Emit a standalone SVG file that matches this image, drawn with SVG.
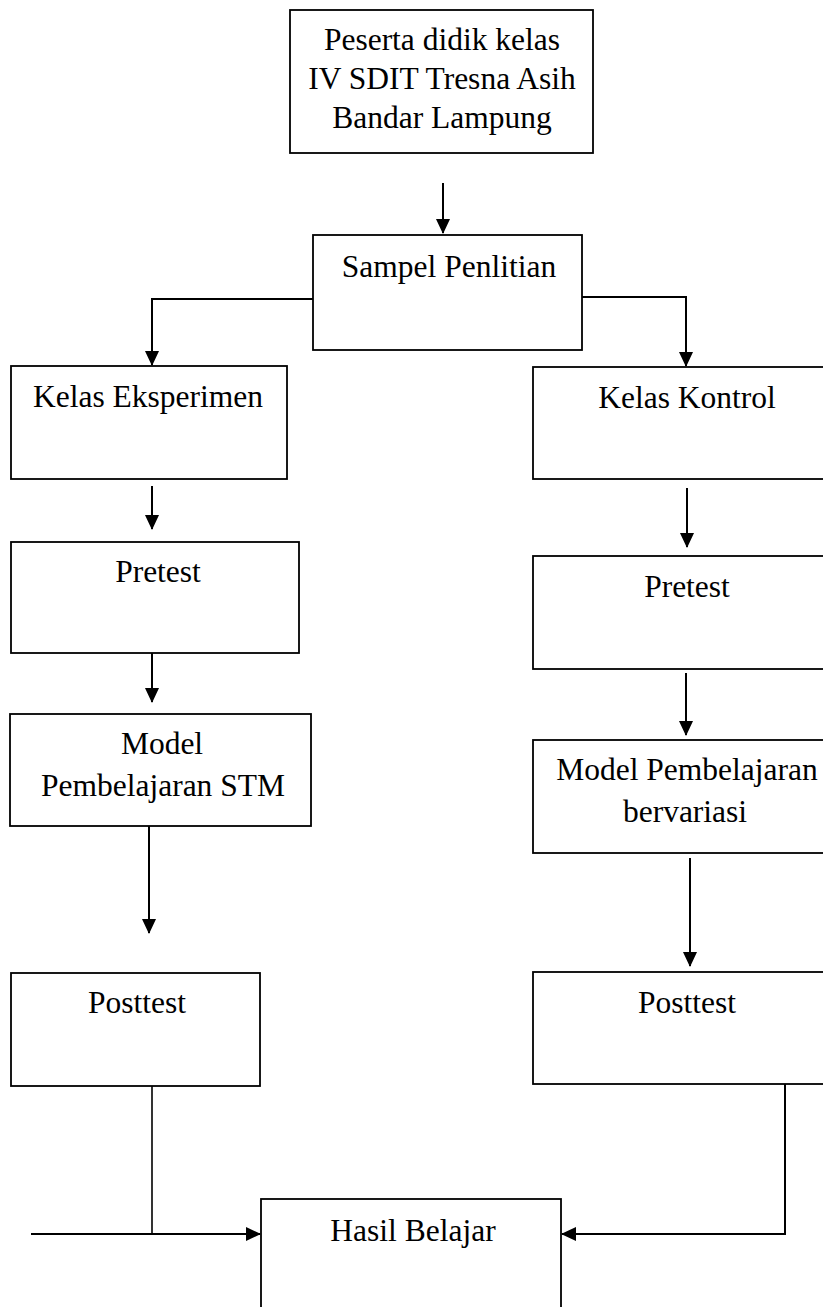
<svg xmlns="http://www.w3.org/2000/svg" width="823" height="1307" viewBox="0 0 823 1307">
<style>
.box{fill:#fff;stroke:#000;stroke-width:1.8}
.lbl{font-family:"Liberation Serif","Times New Roman",serif;font-size:31.5px;fill:#000;text-anchor:middle}
.arr{fill:none;stroke:#000;stroke-width:2;marker-end:url(#ah)}
.ln{fill:none;stroke:#000;stroke-width:1.6}
</style>
<defs>
<marker id="ah" viewBox="0 0 15 14" refX="14" refY="7" markerWidth="15" markerHeight="14" markerUnits="userSpaceOnUse" orient="auto">
<path d="M0,0 L15,7 L0,14 z" fill="#000"/>
</marker>
</defs>
<rect width="823" height="1307" fill="#fff"/>
<g id="connectors">
<path class="arr" d="M443,183 V233"/>
<path class="arr" d="M313,299 H152 V365"/>
<path class="arr" d="M582,297 H686 V366"/>
<path class="arr" d="M152,486 V529"/>
<path class="arr" d="M687,488 V547"/>
<path class="arr" d="M152,651 V702"/>
<path class="arr" d="M686,673 V735"/>
<path class="arr" d="M149,826 V933"/>
<path class="arr" d="M690,858 V966"/>
<path class="ln" d="M152,1086 V1234"/>
<path class="arr" d="M31,1234 H260"/>
<path class="arr" d="M785,1084 V1234 H562"/>
</g>
<g id="node-peserta">
<rect class="box" x="290" y="10" width="303" height="143"/>
<text class="lbl" x="442" y="50">Peserta didik kelas</text>
<text class="lbl" x="442" y="89">IV SDIT Tresna Asih</text>
<text class="lbl" x="442" y="128">Bandar Lampung</text>
</g>
<g id="node-sampel">
<rect class="box" x="313" y="235" width="269" height="115"/>
<text class="lbl" x="449" y="277">Sampel Penlitian</text>
</g>
<g id="node-eksperimen">
<rect class="box" x="11" y="366" width="276" height="113"/>
<text class="lbl" x="148" y="407">Kelas Eksperimen</text>
</g>
<g id="node-kontrol">
<rect class="box" x="533" y="367" width="310" height="112"/>
<text class="lbl" x="687" y="408">Kelas Kontrol</text>
</g>
<g id="node-pretest-l">
<rect class="box" x="11" y="542" width="288" height="111"/>
<text class="lbl" x="158" y="582">Pretest</text>
</g>
<g id="node-pretest-r">
<rect class="box" x="533" y="556" width="310" height="113"/>
<text class="lbl" x="687" y="597">Pretest</text>
</g>
<g id="node-model-stm">
<rect class="box" x="10" y="714" width="301" height="112"/>
<text class="lbl" x="162" y="754">Model</text>
<text class="lbl" x="163" y="796">Pembelajaran STM</text>
</g>
<g id="node-model-var">
<rect class="box" x="533" y="740" width="310" height="113"/>
<text class="lbl" x="687" y="780">Model Pembelajaran</text>
<text class="lbl" x="685" y="822">bervariasi</text>
</g>
<g id="node-posttest-l">
<rect class="box" x="11" y="973" width="249" height="113"/>
<text class="lbl" x="137" y="1013">Posttest</text>
</g>
<g id="node-posttest-r">
<rect class="box" x="533" y="972" width="310" height="112"/>
<text class="lbl" x="687" y="1013">Posttest</text>
</g>
<g id="node-hasil">
<rect class="box" x="261" y="1199" width="300" height="130"/>
<text class="lbl" x="413" y="1241">Hasil Belajar</text>
</g>
</svg>
